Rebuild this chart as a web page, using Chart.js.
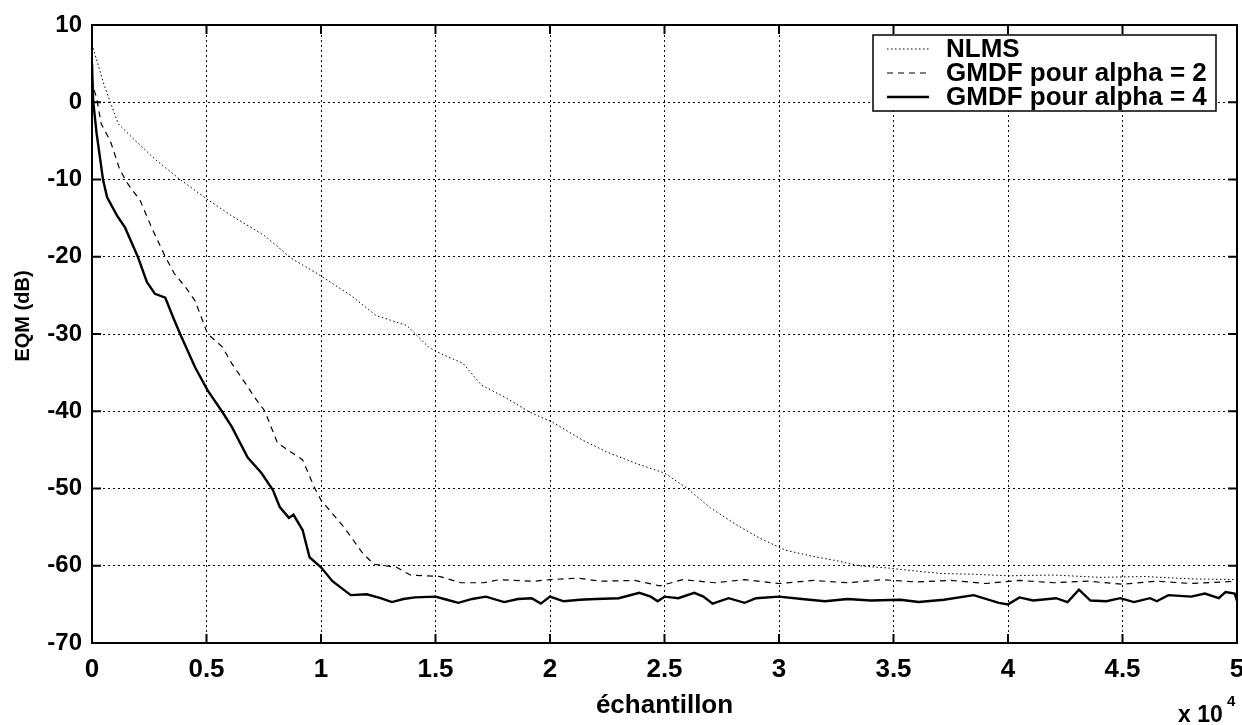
<!DOCTYPE html>
<html>
<head>
<meta charset="utf-8">
<script src="https://cdn.jsdelivr.net/npm/chart.js@4/dist/chart.umd.min.js"></script>
<style>
  html, body { margin: 0; padding: 0; background: #fff; }
  #wrap { width: 1242px; height: 725px; }
</style>
</head>
<body>
<div id="wrap"><canvas id="eqmChart" width="1242" height="725"></canvas></div>
<script>
// x values are in units of 10^4 samples
const xTicks = [0, 0.5, 1, 1.5, 2, 2.5, 3, 3.5, 4, 4.5, 5];
const yTicks = [10, 0, -10, -20, -30, -40, -50, -60, -70];

const seriesNames = ['NLMS', 'GMDF pour alpha = 2', 'GMDF pour alpha = 4'];

// NLMS (dotted)
const nlmsX = [0, 0.02, 0.05, 0.08, 0.115, 0.19, 0.28, 0.385, 0.5, 0.61, 0.755, 0.87, 0.99, 1.13, 1.24, 1.375, 1.47, 1.52, 1.62, 1.70, 1.81, 1.91, 2.01, 2.14, 2.25, 2.38, 2.5, 2.6, 2.7, 2.82, 2.92, 3.03, 3.15, 3.26, 3.35, 3.48, 3.6, 3.71, 3.85, 4.0, 4.2, 4.4, 4.6, 4.8, 5.0];
const nlmsY = [7.5, 5.5, 2.5, 0, -2.8, -5, -7.5, -10, -12.5, -14.7, -17.3, -20.2, -22.3, -25, -27.6, -28.9, -31.7, -32.5, -33.8, -36.6, -38.3, -40.1, -41.4, -43.7, -45.3, -46.8, -48, -50, -52.5, -54.8, -56.5, -58, -58.8, -59.4, -60, -60.3, -60.7, -61, -61.1, -61.3, -61.2, -61.5, -61.4, -61.7, -61.8];

// GMDF alpha = 2 (dashed)
const gmdf2X = [0, 0.01, 0.02, 0.04, 0.08, 0.12, 0.15, 0.21, 0.26, 0.32, 0.36, 0.41, 0.45, 0.505, 0.57, 0.61, 0.67, 0.71, 0.755, 0.81, 0.87, 0.92, 0.97, 1.0, 1.1, 1.18, 1.23, 1.33, 1.39, 1.52, 1.61, 1.71, 1.78, 1.93, 2.0, 2.12, 2.22, 2.37, 2.48, 2.58, 2.72, 2.85, 3.0, 3.15, 3.3, 3.45, 3.6, 3.75, 3.9, 4.05, 4.2, 4.35, 4.5, 4.65, 4.8, 5.0];
const gmdf2Y = [3, 1.5, 0.6, -2.8, -5, -8.6, -10.3, -12.7, -16.2, -20, -22.2, -24, -25.7, -30, -31.7, -33.8, -36.4, -38.2, -40, -44.1, -45.3, -46.3, -49.8, -51.5, -55, -58.3, -59.8, -60.2, -61.2, -61.4, -62.2, -62.2, -61.8, -62, -61.8, -61.6, -62, -61.9, -62.6, -61.8, -62.2, -61.8, -62.3, -61.9, -62.2, -61.8, -62.1, -61.9, -62.3, -61.9, -62.2, -62, -62.4, -62, -62.3, -62];

// GMDF alpha = 4 (solid)
const gmdf4X = [0, 0.005, 0.02, 0.035, 0.048, 0.066, 0.11, 0.144, 0.2, 0.24, 0.275, 0.32, 0.355, 0.385, 0.45, 0.505, 0.567, 0.61, 0.68, 0.74, 0.79, 0.82, 0.86, 0.88, 0.92, 0.95, 1.0, 1.05, 1.13, 1.2, 1.26, 1.31, 1.36, 1.41, 1.5, 1.55, 1.6, 1.66, 1.72, 1.8, 1.86, 1.92, 1.96, 2.0, 2.06, 2.13, 2.2, 2.3, 2.39, 2.44, 2.47, 2.5, 2.56, 2.63, 2.67, 2.71, 2.78, 2.85, 2.9, 3.0, 3.1, 3.2, 3.3, 3.4, 3.53, 3.61, 3.72, 3.85, 3.96, 4.0, 4.05, 4.11, 4.21, 4.26, 4.31, 4.36, 4.43, 4.49, 4.55, 4.62, 4.65, 4.7, 4.8, 4.86, 4.92, 4.95, 4.99, 5.0];
const gmdf4Y = [5, 0.2, -4, -7.2, -10, -12.3, -14.7, -16.2, -20, -23.3, -24.8, -25.3, -27.9, -30, -34.3, -37.3, -40, -42, -46, -48, -50.2, -52.4, -53.8, -53.4, -55.4, -58.9, -60.2, -62, -63.8, -63.7, -64.2, -64.7, -64.3, -64.1, -64.0, -64.4, -64.8, -64.3, -64.0, -64.7, -64.3, -64.2, -64.9, -64.0, -64.6, -64.4, -64.3, -64.2, -63.5, -64.0, -64.6, -64.0, -64.2, -63.5, -64.0, -64.9, -64.2, -64.8, -64.2, -64.0, -64.3, -64.6, -64.3, -64.5, -64.4, -64.7, -64.4, -63.8, -64.8, -65, -64.1, -64.5, -64.2, -64.7, -63.1, -64.5, -64.6, -64.2, -64.7, -64.2, -64.6, -63.8, -64.0, -63.6, -64.2, -63.4, -63.6, -64.5];

const FONT = "'Liberation Sans', Arial, sans-serif";

const toPoints = (xs, ys) => xs.map((x, i) => ({ x: x, y: ys[i] }));

// frame, inward ticks, y title, boxed legend and the x 10^4 multiplier
const matlabAxes = {
    id: 'matlabAxes',
    afterDraw(chart) {
        const ctx = chart.ctx;
        const a = chart.chartArea;
        const xs = chart.scales.x;
        const ys = chart.scales.y;
        ctx.save();
        ctx.strokeStyle = '#000';
        ctx.lineWidth = 2;
        ctx.strokeRect(a.left, a.top, a.right - a.left, a.bottom - a.top);

        // ticks pointing inside
        ctx.beginPath();
        xTicks.forEach(v => {
            const px = xs.getPixelForValue(v);
            ctx.moveTo(px, a.bottom); ctx.lineTo(px, a.bottom - 9);
            ctx.moveTo(px, a.top); ctx.lineTo(px, a.top + 9);
        });
        yTicks.forEach(v => {
            const py = ys.getPixelForValue(v);
            ctx.moveTo(a.left, py); ctx.lineTo(a.left + 9, py);
            ctx.moveTo(a.right, py); ctx.lineTo(a.right - 9, py);
        });
        ctx.stroke();

        // y axis title
        ctx.save();
        ctx.translate(23, 316);
        ctx.rotate(-Math.PI / 2);
        ctx.font = 'bold 20px ' + FONT;
        ctx.fillStyle = '#000';
        ctx.textAlign = 'center';
        ctx.textBaseline = 'middle';
        ctx.fillText('EQM (dB)', 0, 0);
        ctx.restore();

        // legend box
        const lx = 873, ly = 35, lw = 343, lh = 76;
        ctx.fillStyle = '#fff';
        ctx.fillRect(lx, ly, lw, lh);
        ctx.lineWidth = 1.5;
        ctx.strokeRect(lx, ly, lw, lh);
        ctx.font = 'bold 26px ' + FONT;
        ctx.textBaseline = 'middle';
        ctx.textAlign = 'left';
        chart.data.datasets.forEach((ds, i) => {
            const ry = ly + 14 + i * 24;
            ctx.beginPath();
            ctx.setLineDash(ds.borderDash || []);
            ctx.lineWidth = ds.borderWidth;
            ctx.strokeStyle = '#000';
            ctx.moveTo(887, ry);
            ctx.lineTo(929, ry);
            ctx.stroke();
            ctx.setLineDash([]);
            ctx.fillStyle = '#000';
            ctx.fillText(ds.label, 946, ry + 1);
        });

        // axis multiplier
        ctx.font = 'bold 23px ' + FONT;
        ctx.textAlign = 'left';
        ctx.textBaseline = 'alphabetic';
        ctx.fillText('x 10', 1178, 722);
        ctx.font = 'bold 15px ' + FONT;
        ctx.fillText('4', 1227, 706);
        ctx.restore();
    }
};

const ctxEqm = document.getElementById('eqmChart').getContext('2d');
const eqmChart = new Chart(ctxEqm, {
    type: 'line',
    data: {
        datasets: [{
            label: seriesNames[0],
            data: toPoints(nlmsX, nlmsY),
            borderColor: '#000',
            borderWidth: 1,
            borderDash: [1.5, 2.5]
        }, {
            label: seriesNames[1],
            data: toPoints(gmdf2X, gmdf2Y),
            borderColor: '#000',
            borderWidth: 1.2,
            borderDash: [6, 5]
        }, {
            label: seriesNames[2],
            data: toPoints(gmdf4X, gmdf4Y),
            borderColor: '#000',
            borderWidth: 2.4
        }]
    },
    options: {
        responsive: false,
        animation: false,
        devicePixelRatio: 1,
        elements: {
            point: { radius: 0 },
            line: { tension: 0, fill: false }
        },
        layout: { padding: { top: 25, right: 5, left: 0, bottom: 0 } },
        plugins: {
            legend: { display: false },
            tooltip: { enabled: false }
        },
        scales: {
            x: {
                type: 'linear',
                min: 0,
                max: 5,
                afterBuildTicks: (scale) => { scale.ticks = xTicks.map(v => ({ value: v })); },
                afterFit: (scale) => {
                    scale.height = 82;
                    scale.paddingLeft = 0;
                    scale.paddingRight = 0;
                },
                grid: { color: '#000', lineWidth: 1, drawTicks: false },
                border: { display: true, color: '#000', width: 2, dash: [2, 3] },
                ticks: {
                    color: '#000',
                    padding: 11,
                    maxRotation: 0,
                    font: { family: FONT, size: 26, weight: 'bold' },
                    callback: (v) => String(v)
                },
                title: {
                    display: true,
                    text: 'échantillon',
                    color: '#000',
                    font: { family: FONT, size: 26, weight: 'bold' },
                    padding: { top: 2, bottom: 4 }
                }
            },
            y: {
                min: -70,
                max: 10,
                afterBuildTicks: (scale) => { scale.ticks = yTicks.map(v => ({ value: v })); },
                afterFit: (scale) => {
                    scale.width = 92;
                    scale.paddingTop = 0;
                    scale.paddingBottom = 0;
                },
                grid: { color: '#000', lineWidth: 1, drawTicks: false },
                border: { display: true, color: '#000', width: 2, dash: [2, 3] },
                ticks: {
                    color: '#000',
                    padding: 10,
                    font: { family: FONT, size: 24, weight: 'bold' }
                }
            }
        }
    },
    plugins: [matlabAxes]
});
</script>
</body>
</html>
